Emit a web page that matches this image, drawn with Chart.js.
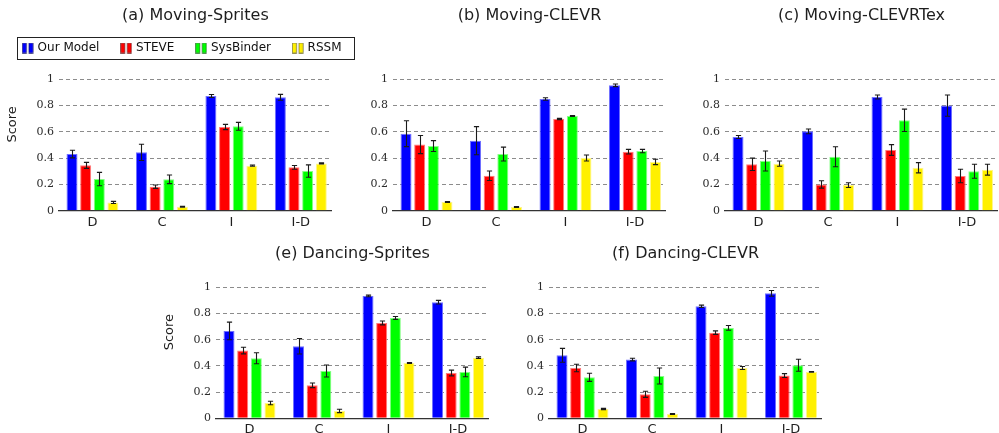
<!DOCTYPE html>
<html>
<head>
<meta charset="utf-8">
<script src="https://cdn.jsdelivr.net/npm/chart.js@4.4.1/dist/chart.umd.min.js"></script>
<style>
  html, body { margin: 0; padding: 0; background: #fff; width: 999px; height: 433px; overflow: hidden; }
  #stage { position: relative; width: 999px; height: 433px; }
  #stage canvas { position: absolute; }
</style>
</head>
<body>
<div id="stage"></div>
<script>
// Evaluation settings and methods
const categories = ['D', 'C', 'I', 'I-D'];
const models = ['Our Model', 'STEVE', 'SysBinder', 'RSSM'];
const scoreTicks = [0, 0.2, 0.4, 0.6, 0.8, 1];

// Rows: Our Model, STEVE, SysBinder, RSSM. Columns: D, C, I, I-D.
const movingSpritesMean = [
  [0.431, 0.444, 0.873, 0.863],
  [0.345, 0.183, 0.637, 0.330],
  [0.241, 0.239, 0.642, 0.302],
  [0.063, 0.030, 0.343, 0.360]
];
const movingSpritesStd = [
  [0.029, 0.062, 0.011, 0.022],
  [0.023, 0.013, 0.020, 0.014],
  [0.051, 0.033, 0.030, 0.047],
  [0.008, 0.004, 0.005, 0.004]
];

const movingClevrMean = [
  [0.586, 0.533, 0.850, 0.954],
  [0.503, 0.266, 0.698, 0.449],
  [0.492, 0.431, 0.721, 0.454],
  [0.066, 0.028, 0.401, 0.371]
];
const movingClevrStd = [
  [0.098, 0.107, 0.010, 0.010],
  [0.069, 0.036, 0.005, 0.018],
  [0.041, 0.053, 0.003, 0.013],
  [0.004, 0.003, 0.023, 0.020]
];

const movingClevrTexMean = [
  [0.561, 0.604, 0.865, 0.800],
  [0.353, 0.200, 0.462, 0.264],
  [0.378, 0.411, 0.688, 0.300],
  [0.358, 0.195, 0.327, 0.312]
];
const movingClevrTexStd = [
  [0.011, 0.018, 0.015, 0.081],
  [0.047, 0.028, 0.041, 0.051],
  [0.076, 0.076, 0.085, 0.053],
  [0.020, 0.018, 0.039, 0.041]
];

const dancingSpritesMean = [
  [0.667, 0.550, 0.934, 0.886],
  [0.517, 0.252, 0.728, 0.346],
  [0.458, 0.361, 0.766, 0.354],
  [0.117, 0.056, 0.422, 0.463]
];
const dancingSpritesStd = [
  [0.067, 0.059, 0.006, 0.014],
  [0.025, 0.018, 0.015, 0.022],
  [0.042, 0.046, 0.011, 0.037],
  [0.013, 0.013, 0.004, 0.006]
];

const dancingClevrMean = [
  [0.481, 0.448, 0.855, 0.954],
  [0.384, 0.183, 0.654, 0.326],
  [0.313, 0.323, 0.690, 0.405],
  [0.071, 0.033, 0.384, 0.354]
];
const dancingClevrStd = [
  [0.053, 0.010, 0.009, 0.022],
  [0.029, 0.023, 0.013, 0.015],
  [0.031, 0.061, 0.018, 0.046],
  [0.005, 0.003, 0.011, 0.003]
];

// ---- styling ----
const palette = [
  { fill: '#0000ff', edge: '#7070ff' },
  { fill: '#ff0000', edge: '#ff7a7a' },
  { fill: '#00ff00', edge: '#86ff86' },
  { fill: '#fff000', edge: '#fff78a' }
];

Chart.defaults.font.family = "'DejaVu Sans', sans-serif";
Chart.defaults.color = '#1e1e1e';

// two-bar swatch used in the legend
function legendSwatch(fill) {
  const c = document.createElement('canvas');
  c.width = 12; c.height = 11;
  const g = c.getContext('2d');
  g.fillStyle = fill;
  g.strokeStyle = 'rgba(20,20,20,0.55)';
  g.lineWidth = 0.8;
  [0.5, 7.0].forEach(x0 => {
    g.fillRect(x0, 0.5, 4.2, 10);
    g.strokeRect(x0, 0.5, 4.2, 10);
  });
  return c;
}
const legendSwatches = palette.map(p => legendSwatch(p.fill));

// vertical error bars with caps, placed from the y scale
const errorBars = {
  id: 'errorBars',
  afterDatasetsDraw(chart) {
    const { ctx } = chart;
    const y = chart.scales.y;
    ctx.save();
    ctx.strokeStyle = '#1a1a1a';
    ctx.lineWidth = 1.1;
    chart.data.datasets.forEach((ds, di) => {
      const meta = chart.getDatasetMeta(di);
      meta.data.forEach((bar, i) => {
        const v = ds.data[i], e = ds.errors[i];
        const top = y.getPixelForValue(v + e);
        const bot = y.getPixelForValue(v - e);
        const x = Math.round(bar.x) + 0.5;
        ctx.beginPath();
        ctx.moveTo(x, top); ctx.lineTo(x, bot);
        ctx.moveTo(x - 2.6, top); ctx.lineTo(x + 2.6, top);
        ctx.moveTo(x - 2.6, bot); ctx.lineTo(x + 2.6, bot);
        ctx.stroke();
      });
    });
    ctx.restore();
  }
};

// frame around the legend row
const legendFrame = {
  id: 'legendFrame',
  afterDraw(chart, args, opts) {
    if (!opts.display) return;
    const boxes = chart.legend && chart.legend.legendHitBoxes;
    if (!boxes || !boxes.length) return;
    const first = boxes[0], last = boxes[boxes.length - 1];
    const x0 = Math.round(first.left - 7) + 0.5;
    const x1 = Math.round(last.left + last.width + 12) + 0.5;
    const y0 = Math.round(first.top - 5) + 0.5;
    const y1 = Math.round(first.top + first.height + 5) + 0.5;
    const ctx = chart.ctx;
    ctx.save();
    ctx.strokeStyle = '#222';
    ctx.lineWidth = 1;
    ctx.strokeRect(x0, y0, x1 - x0, y1 - y0);
    ctx.restore();
  }
};

// ---- panel layout ----
const Y_AXIS_W = 58;
const PLOT_W = 272.8;
const X_MIN = -0.482, X_MAX = 3.446;

const rows = [
  { top: 0,   height: 233, xAxisH: 22.3, titleTop: 13,   titleBottom: 45,   pxPerUnit: 131.4 },
  { top: 233, height: 208, xAxisH: 22.7, titleTop: 17.7, titleBottom: 15.3, pxPerUnit: 131.0 }
];

const panels = [
  { title: '(a) Moving-Sprites',  mean: movingSpritesMean,  err: movingSpritesStd,  plotLeft: 59.2,  row: 0, legend: true,  yTitle: true,  width: 380 },
  { title: '(b) Moving-CLEVR',    mean: movingClevrMean,    err: movingClevrStd,    plotLeft: 392.5, row: 0, legend: false, yTitle: false },
  { title: '(c) Moving-CLEVRTex', mean: movingClevrTexMean, err: movingClevrTexStd, plotLeft: 725.2, row: 0, legend: false, yTitle: false },
  { title: '(e) Dancing-Sprites', mean: dancingSpritesMean, err: dancingSpritesStd, plotLeft: 215.8, row: 1, legend: false, yTitle: true },
  { title: '(f) Dancing-CLEVR',   mean: dancingClevrMean,   err: dancingClevrStd,   plotLeft: 549.2, row: 1, legend: false, yTitle: false }
];

const stage = document.getElementById('stage');

panels.forEach(p => {
  const r = rows[p.row];
  const canvasW = p.width || Math.ceil(Y_AXIS_W + PLOT_W);
  const canvasLeft = p.plotLeft - Y_AXIS_W;
  const canvas = document.createElement('canvas');
  canvas.width = canvasW;
  canvas.height = r.height;
  canvas.style.left = canvasLeft + 'px';
  canvas.style.top = r.top + 'px';
  canvas.style.width = canvasW + 'px';
  canvas.style.height = r.height + 'px';
  stage.appendChild(canvas);

  const datasets = models.map((name, m) => ({
    label: name,
    data: p.mean[m],
    errors: p.err[m],
    backgroundColor: palette[m].fill,
    borderColor: palette[m].edge,
    borderWidth: 1
  }));

  const scales = {
    x: {
      type: 'linear',
      min: X_MIN,
      max: X_MAX,
      offset: false,
      grid: { display: false, drawTicks: false, offset: false },
      border: { display: true, color: '#333', width: 1.2 },
      afterBuildTicks: s => { s.ticks = categories.map((_, i) => ({ value: i })); },
      ticks: {
        callback: v => categories[v],
        padding: 4,
        font: { size: 13 },
        color: '#1e1e1e',
        maxRotation: 0,
        autoSkip: false
      },
      afterFit: s => { s.height = r.xAxisH; }
    },
    y: {
      min: 0,
      max: 1.12,
      grid: {
        color: c => (c.tick && c.tick.value === 0) ? 'rgba(0,0,0,0)' : '#8c8c8c',
        lineWidth: 1,
        drawTicks: false
      },
      border: { display: false, dash: [4, 3] },
      afterBuildTicks: s => { s.ticks = scoreTicks.map(v => ({ value: v })); },
      ticks: {
        padding: 5,
        font: { family: "'DejaVu Serif', serif", size: 11 },
        color: '#2a2a2a',
        callback: v => String(v)
      },
      title: {
        display: p.yTitle,
        text: '\u2003\u2003Score',
        font: { size: 13 },
        padding: { top: 4, bottom: 0 },
        color: '#1e1e1e'
      },
      afterFit: s => { s.width = Y_AXIS_W; }
    }
  };

  if (p.legend) {
    // keeps the plot narrower than the legend row above it
    scales.pad = {
      type: 'linear',
      position: 'right',
      display: true,
      grid: { display: false, drawTicks: false },
      border: { display: false },
      ticks: { display: false },
      afterFit: s => { s.width = canvasW - Y_AXIS_W - PLOT_W; }
    };
  }

  const chart = new Chart(canvas, {
    type: 'bar',
    data: { labels: categories.map((_, i) => i), datasets },
    options: {
      responsive: false,
      animation: false,
      devicePixelRatio: 1,
      events: [],
      categoryPercentage: 0.786,
      barPercentage: 0.806,
      layout: { padding: { left: 0, right: 0, top: 0, bottom: 0 } },
      scales,
      plugins: {
        tooltip: { enabled: false },
        title: {
          display: true,
          text: p.title,
          fullSize: false,
          color: '#1e1e1e',
          font: { size: 16, weight: 'normal', lineHeight: '6px' },
          padding: { top: r.titleTop, bottom: p.legend ? 0 : r.titleBottom }
        },
        legend: {
          display: p.legend,
          position: 'top',
          align: 'start',
          labels: {
            usePointStyle: true,
            pointStyleWidth: 7.6,
            padding: 23,
            font: { size: 12 },
            color: '#111',
            generateLabels: ch => Chart.defaults.plugins.legend.labels.generateLabels(ch)
              .map((item, i) => Object.assign(item, { pointStyle: legendSwatches[i] }))
          }
        },
        legendFrame: { display: p.legend }
      }
    },
    plugins: [errorBars, legendFrame]
  });

  // fix the score scale so that one unit spans the same height in every panel of a row
  const area = chart.chartArea;
  chart.options.scales.y.max = (area.bottom - area.top) / r.pxPerUnit;
  chart.update('none');
});
</script>
</body>
</html>
